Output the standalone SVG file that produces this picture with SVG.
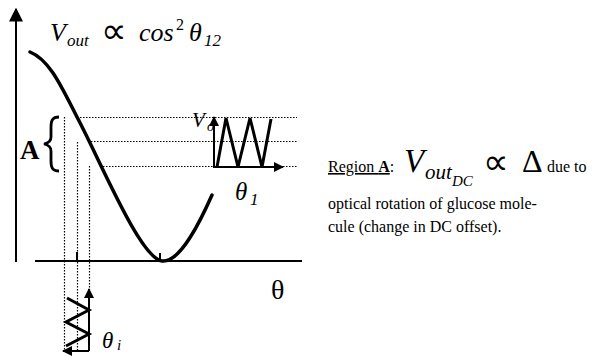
<svg xmlns="http://www.w3.org/2000/svg" width="616" height="356" viewBox="0 0 616 356">
<style>
.ax{stroke:#000;stroke-width:2;fill:none}
.cv{stroke:#000;stroke-width:3.5;fill:none;stroke-linecap:round;stroke-linejoin:round}
.sig{stroke:#000;stroke-width:3;fill:none;stroke-linejoin:miter}
.dot{stroke:#000;stroke-width:1.2;fill:none;stroke-dasharray:1.5 1.5}
.t{font-family:"Liberation Serif","Times New Roman",serif;fill:#000}
.it{font-style:italic}
</style>
<defs>
<marker id="ah" viewBox="0 0 10 10" refX="9" refY="5" markerWidth="10" markerHeight="10" markerUnits="userSpaceOnUse" orient="auto">
<path d="M0,0 L10,5 L0,10 Z" fill="#000"/>
</marker>
<marker id="ahb" viewBox="0 0 10 10" refX="9" refY="5" markerWidth="14" markerHeight="14" markerUnits="userSpaceOnUse" orient="auto">
<path d="M0,0 L10,5 L0,10 Z" fill="#000"/>
</marker>
</defs>
<g id="axes">
<line class="ax" x1="16" y1="262" x2="16" y2="9" marker-end="url(#ahb)"/>
<line class="ax" x1="35" y1="261" x2="302" y2="261"/>
<line class="ax" x1="77" y1="252" x2="77" y2="261" stroke-width="1.5"/>
<line class="ax" x1="160" y1="253" x2="160" y2="261" stroke-width="1.5"/>
</g>
<g id="guides">
<line class="dot" x1="77" y1="117.5" x2="297" y2="117.5"/>
<line class="dot" x1="91" y1="141.5" x2="297" y2="141.5"/>
<line class="dot" x1="103" y1="166.5" x2="297" y2="166.5"/>
<line class="dot" x1="64.5" y1="117" x2="64.5" y2="352"/>
<line class="dot" x1="77.5" y1="142" x2="77.5" y2="352"/>
<line class="dot" x1="89.5" y1="166" x2="89.5" y2="290"/>
</g>
<g id="curve">
<path class="cv" d="M30,52 C50,60 62,88 77,117 C100,160 140,258 162,261 C180,263 200,222 212,195"/>
</g>
<g id="brace">
<path d="M59,117 C52,117 51,121 51,127 L51,137 C51,141 49,143 44,144 C49,145 51,147 51,151 L51,161 C51,167 52,171 59,171" stroke="#000" stroke-width="2.8" fill="none"/>
<text class="t" x="20" y="159" font-size="27" font-weight="bold">A</text>
</g>
<g id="output-signal">
<line class="ax" x1="214" y1="168" x2="214" y2="117" stroke-width="1.8" marker-end="url(#ah)"/>
<line class="ax" x1="214" y1="167" x2="283" y2="167" stroke-width="1.8" marker-end="url(#ah)"/>
<polyline class="sig" points="217,167 226,118 238,167 250,118 262,167 271,119"/>
<text class="t it" x="192" y="127" font-size="21">V</text>
<text class="t it" x="207" y="131" font-size="14">o</text>
<text class="t it" x="235" y="200" font-size="25">θ</text>
<text class="t it" x="250" y="205" font-size="17">1</text>
</g>
<g id="input-signal">
<line class="ax" x1="89" y1="351" x2="89" y2="289" stroke-width="1.8" marker-end="url(#ah)"/>
<line class="ax" x1="89" y1="351" x2="63" y2="351" stroke-width="1.8" marker-end="url(#ah)"/>
<polyline class="sig" points="67,298 89,310 66,322 89,334 66,346"/>
<text class="t it" x="102" y="348" font-size="23">θ</text>
<text class="t it" x="117" y="350" font-size="15">i</text>
</g>
<g id="labels">
<text class="t it" x="50" y="41" font-size="26">V</text>
<text class="t it" x="67" y="46" font-size="17">out</text>
<text class="t" x="101" y="43" font-size="36">∝</text>
<text class="t it" x="139" y="41" font-size="26">cos</text>
<text class="t" x="176" y="30" font-size="16">2</text>
<text class="t it" x="189" y="41" font-size="26">θ</text>
<text class="t it" x="204" y="46" font-size="17">12</text>
<text class="t" x="271" y="299" font-size="28">θ</text>
</g>
<g id="caption">
<text class="t" x="328" y="172" font-size="16"><tspan text-decoration="underline">Region <tspan font-weight="bold">A</tspan></tspan>:</text>
<text class="t it" x="404" y="172" font-size="33">V</text>
<text class="t it" x="425" y="179" font-size="21">out</text>
<text class="t it" x="452" y="186" font-size="15">DC</text>
<text class="t" x="483" y="174" font-size="36">∝</text>
<text class="t" x="522" y="172" font-size="32">Δ</text>
<text class="t" x="547" y="172" font-size="16">due to</text>
<text class="t" x="328" y="209" font-size="16">optical rotation of glucose mole-</text>
<text class="t" x="328" y="232" font-size="16">cule (change in DC offset).</text>
</g>
</svg>
